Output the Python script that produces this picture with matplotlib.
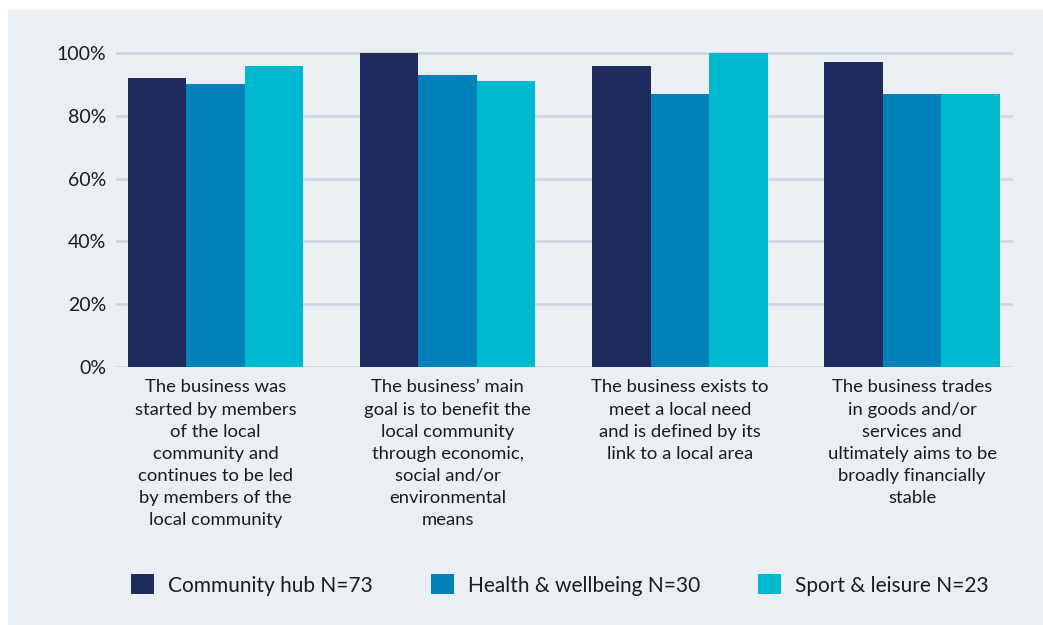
import numpy as np
import matplotlib.pyplot as plt
from matplotlib.patches import Rectangle

plt.rcParams['font.family'] = ['Lato', 'DejaVu Sans']

categories = [
    "The business was\nstarted by members\nof the local\ncommunity and\ncontinues to be led\nby members of the\nlocal community",
    "The business\u2019 main\ngoal is to benefit the\nlocal community\nthrough economic,\nsocial and/or\nenvironmental\nmeans",
    "The business exists to\nmeet a local need\nand is defined by its\nlink to a local area",
    "The business trades\nin goods and/or\nservices and\nultimately aims to be\nbroadly financially\nstable",
]
series = ["Community hub N=73", "Health & wellbeing N=30", "Sport & leisure N=23"]
community_hub = [92, 100, 96, 97]
health_wellbeing = [90, 93, 87, 87]
sport_leisure = [96, 91, 100, 87]
yticks = [0, 20, 40, 60, 80, 100]

colors = ["#1e2b5c", "#0081b9", "#00b9cf"]
bg = "#e9eff2"
text_col = "#1c1c1c"

fig = plt.figure(figsize=(10.43, 6.25), dpi=100)
fig.patch.set_facecolor("white")
fig.patches.append(Rectangle((8 / 1043, 0), 1 - 8 / 1043, 1 - 10 / 625,
                             transform=fig.transFigure, facecolor=bg,
                             edgecolor="none", zorder=-10))

ax = fig.add_axes([116 / 1043, (625 - 367) / 625, (1013 - 116) / 1043, (367 - 49.9) / 625])
ax.set_facecolor("none")

x = np.arange(len(categories))
w = 0.252
for i, (vals, name) in enumerate(zip([community_hub, health_wellbeing, sport_leisure], series)):
    ax.bar(x + (i - 1) * w, vals, width=w, color=colors[i], label=name, zorder=3)

ax.set_xlim(-0.429, 3.435)
ax.set_ylim(0, 101)
ax.set_yticks(yticks)
ax.set_yticklabels([f"{v}%" for v in yticks], fontsize=14, color=text_col)
ax.yaxis.grid(True, color="#ccd5dc", linewidth=1.8, zorder=0)
ax.tick_params(axis="y", length=0, pad=7)
ax.tick_params(axis="x", length=0, pad=9)
ax.set_xticks(x)
ax.set_xticklabels(categories, fontsize=13.3, color=text_col, linespacing=1.47, va="top")
for s in ax.spines.values():
    s.set_visible(False)

fig.legend(loc="center", bbox_to_anchor=(560 / 1043, 40 / 625), ncol=3, frameon=False,
           fontsize=15, handlelength=1.1, handleheight=1.1, handletextpad=0.67,
           columnspacing=2.8, labelcolor=text_col)

fig.savefig("out.png", dpi=100, facecolor=fig.get_facecolor())
